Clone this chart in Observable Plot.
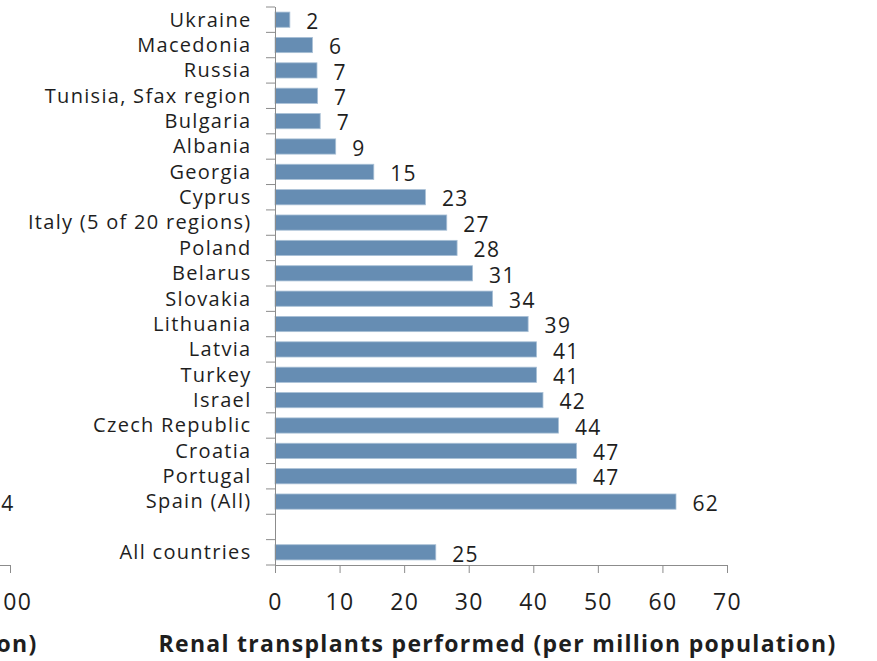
<!DOCTYPE html>
<html>
<head>
<meta charset="utf-8">
<script src="https://cdn.jsdelivr.net/npm/d3@7"></script>
<script src="https://cdn.jsdelivr.net/npm/@observablehq/plot@0.6"></script>
<style>
  html, body { margin: 0; padding: 0; background: #fff; }
  #wrap { position: relative; width: 877px; height: 661px; overflow: hidden; background: #fff; }
  #main { position: absolute; left: 0; top: 0; }
  #left { position: absolute; left: -300px; top: 0; }
</style>
</head>
<body>
<div id="wrap"><div id="left"></div><div id="main"></div></div>
<script>
// ---- data ----
const countries = ["Ukraine", "Macedonia", "Russia", "Tunisia, Sfax region", "Bulgaria", "Albania",
  "Georgia", "Cyprus", "Italy (5 of 20 regions)", "Poland", "Belarus", "Slovakia", "Lithuania",
  "Latvia", "Turkey", "Israel", "Czech Republic", "Croatia", "Portugal", "Spain (All)", "All countries"];
const values = [2.3, 5.8, 6.5, 6.6, 7.0, 9.4, 15.3, 23.3, 26.6, 28.2, 30.6, 33.7, 39.2,
  40.5, 40.5, 41.5, 43.9, 46.7, 46.7, 62.1, 24.9];
const valueLabels = ["2", "6", "7", "7", "7", "9", "15", "23", "27", "28", "31", "34", "39",
  "41", "41", "42", "44", "47", "47", "62", "25"];
const spacer = " ";
const yOrder = [...countries.slice(0, 20), spacer, countries[20]];
const xTicks = [0, 10, 20, 30, 40, 50, 60, 70];
const xTitle = "Renal transplants performed (per million population)";

// fragment of the neighbouring chart visible at the left edge
const leftTicks = [0, 20, 40, 60, 80, 100];
const leftLabels = [{country: "Spain (All)", label: "4"}];
const leftTitle = "(per million population)";

const rows = countries.map((c, i) => ({country: c, value: values[i], label: valueLabels[i]}));

const W = 877, H = 661;
const mTop = 7, mBottom = 96, mLeft = 275, mRight = 150;
const gray = "#8c8c8c";
const ink = "#1e1e1e";
const barColor = "#668DB3";
const barEdge = "#a9c0d6";
const font = "'Open Sans'";

function boundaryTicks(len) {
  return function (index, scales, values, dimensions) {
    const y = scales.y;
    const off = (y.step() - y.bandwidth()) / 2;
    const dom = y.domain();
    const ys = dom.map(d => y(d) - off).concat([y(dom[dom.length - 1]) + y.bandwidth() + off]);
    const g = d3.create("svg:g");
    g.selectAll("line").data(ys).join("line")
      .attr("x1", dimensions.marginLeft - len).attr("x2", dimensions.marginLeft)
      .attr("y1", d => d).attr("y2", d => d)
      .attr("stroke", gray).attr("stroke-width", 1);
    return g.node();
  };
}

const chart = Plot.plot({
  width: W, height: H,
  marginTop: mTop, marginBottom: mBottom, marginLeft: mLeft, marginRight: mRight,
  style: {fontFamily: font, fontSize: "20px", letterSpacing: "1.3px", color: ink, background: "transparent", overflow: "visible"},
  x: {domain: [0, 70], label: null},
  y: {domain: yOrder, paddingInner: 0.4, paddingOuter: 0.2, round: false, label: null},
  marks: [
    Plot.barX(rows, {x: "value", y: "country", fill: barColor, stroke: barEdge, strokeWidth: 0.8}),
    Plot.frame({anchor: "bottom", stroke: gray}),
    Plot.frame({anchor: "left", stroke: gray}),
    Plot.ruleY(yOrder, {y: d => d, render: boundaryTicks(9)}),
    Plot.axisY({tickSize: 0, tickPadding: 24, fontSize: 20, tickFormat: d => d === spacer ? "" : d}),
    Plot.axisX({ticks: xTicks, tickSize: 8, tickPadding: 20, fontSize: 23, stroke: gray}),
    Plot.text(rows, {x: "value", y: "country", text: "label", dx: 16, dy: 2, textAnchor: "start", fontSize: 21, fill: ink}),
    Plot.text([xTitle], {frameAnchor: "bottom", dx: -4, dy: 86, fontSize: 23, fontWeight: "bold", fill: ink})
  ]
});
document.getElementById("main").appendChild(chart);

const leftChart = Plot.plot({
  width: 340, height: H,
  marginTop: mTop, marginBottom: mBottom, marginLeft: 10, marginRight: 30,
  style: {fontFamily: font, fontSize: "20px", letterSpacing: "1.3px", color: ink, background: "transparent", overflow: "visible"},
  x: {domain: [0, 100], label: null},
  y: {domain: yOrder, paddingInner: 0.4, paddingOuter: 0.2, round: false, label: null, axis: null},
  marks: [
    Plot.frame({anchor: "bottom", stroke: gray}),
    Plot.axisX({ticks: leftTicks, tickSize: 8, tickPadding: 20, fontSize: 23, stroke: gray}),
    Plot.text(leftLabels, {x: () => 100, y: "country", text: "label", dx: 4, dy: 2, textAnchor: "end", fontSize: 21, fill: ink}),
    Plot.text([leftTitle], {frameAnchor: "bottom-right", dx: 27, dy: 86, textAnchor: "end", fontSize: 23, fontWeight: "bold", fill: ink})
  ]
});
document.getElementById("left").appendChild(leftChart);
</script>
</body>
</html>
